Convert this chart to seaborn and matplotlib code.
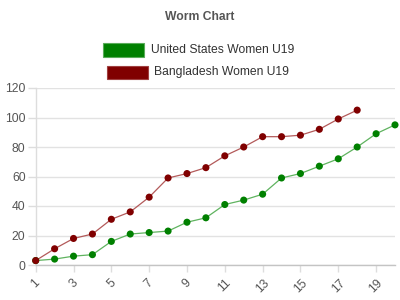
import matplotlib
matplotlib.use("Agg")
import matplotlib.pyplot as plt
from matplotlib.patches import Rectangle
import pandas as pd
import seaborn as sns

# ---- data ----
teams = ["United States Women U19", "Bangladesh Women U19"]
usa_runs = [3, 4, 6, 7, 16, 21, 22, 23, 29, 32, 41, 44, 48, 59, 62, 67, 72, 80, 89, 95]
ban_runs = [3, 11, 18, 21, 31, 36, 46, 59, 62, 66, 74, 80, 87, 87, 88, 92, 99, 105]
x_ticks = [1, 3, 5, 7, 9, 11, 13, 15, 17, 19]
y_ticks = [0, 20, 40, 60, 80, 100, 120]

line_colors = {teams[0]: "#5fb35f", teams[1]: "#b35a5a"}
marker_colors = {teams[0]: "#008000", teams[1]: "#800000"}
swatch_edges = {teams[0]: "#5aac5a", teams[1]: "#a04040"}

df = pd.concat([
    pd.DataFrame({"match": range(1, len(usa_runs) + 1), "runs": usa_runs, "team": teams[0]}),
    pd.DataFrame({"match": range(1, len(ban_runs) + 1), "runs": ban_runs, "team": teams[1]}),
], ignore_index=True)

sns.set_style("white")
plt.rcParams["font.family"] = ["Liberation Sans", "DejaVu Sans"]

fig = plt.figure(figsize=(4, 3), dpi=100)
ax = fig.add_axes([35.7 / 400, 35 / 300, 359.3 / 400, 177 / 300])

draw_order = [teams[1], teams[0]]
sns.lineplot(data=df, x="match", y="runs", hue="team", hue_order=draw_order,
             palette=line_colors, linewidth=0.9, legend=False, ax=ax, zorder=3)
sns.scatterplot(data=df, x="match", y="runs", hue="team", hue_order=draw_order,
                palette=marker_colors, s=26, edgecolor="none", legend=False,
                ax=ax, zorder=4, clip_on=False)
for coll in ax.collections:
    coll.set_clip_on(False)

ax.set_xlim(1, 20)
ax.set_ylim(0, 120)
ax.set_xticks(x_ticks)
ax.set_xticklabels([str(t) for t in x_ticks], rotation=45, ha="center")
ax.set_yticks(y_ticks)
ax.set_xlabel("")
ax.set_ylabel("")

ax.yaxis.grid(True, color="#e2e2e2", linewidth=1)
ax.xaxis.grid(False)
for s in ["top", "right"]:
    ax.spines[s].set_visible(False)
ax.spines["left"].set_color("#dddddd")
ax.spines["left"].set_linewidth(1)
ax.spines["bottom"].set_color("#c4c4c4")
ax.spines["bottom"].set_linewidth(1)

ax.tick_params(axis="y", length=5.8, width=1, color="#dddddd", pad=1.5,
               labelsize=8.7, labelcolor="#555555", left=True)
ax.tick_params(axis="x", length=5, width=1, color="#dddddd", pad=3.5,
               labelsize=8.7, labelcolor="#555555", bottom=True)

# title
fig.text(0.5, 1 - 16.5 / 300, "Worm Chart", ha="center", va="center",
         fontsize=8.7, fontweight="bold", color="#555555")

# legend rows (each centred on its own, as in the reference)
rows = [
    (teams[0], 103.3, 43.3, 151.0, 49.8),
    (teams[1], 106.7, 65.7, 154.3, 72.3),
]
for team, rx, ry, tx, ty in rows:
    fig.add_artist(Rectangle((rx / 400, 1 - (ry + 13.4) / 300), 41 / 400, 13.4 / 300,
                             transform=fig.transFigure, facecolor=marker_colors[team],
                             edgecolor=swatch_edges[team], linewidth=0.8))
    fig.text(tx / 400, 1 - ty / 300, team, ha="left", va="center",
             fontsize=8.75, color="#333333")

fig.savefig("out.png", dpi=100)
